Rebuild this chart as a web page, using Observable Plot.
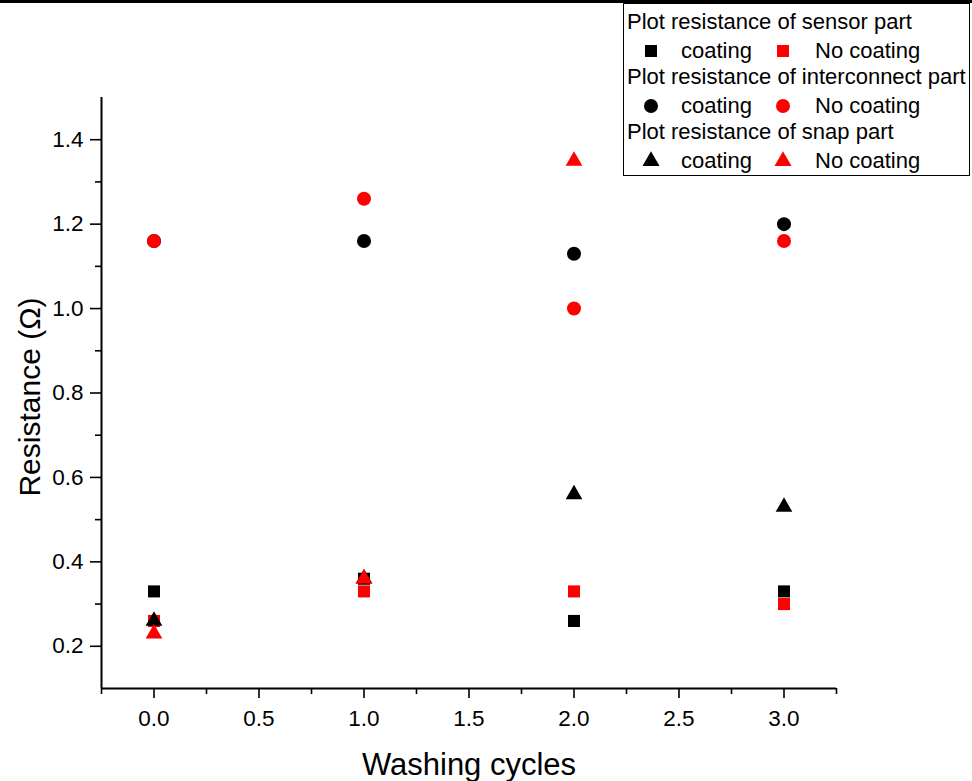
<!DOCTYPE html>
<html>
<head>
<meta charset="utf-8">
<script src="https://cdn.jsdelivr.net/npm/d3@7"></script>
<script src="https://cdn.jsdelivr.net/npm/@observablehq/plot@0.6"></script>
<style>
  html, body { margin: 0; padding: 0; background: white; }
  #wrap { position: relative; width: 972px; height: 781px; overflow: hidden; font-family: "Liberation Sans", Arial, sans-serif; }
  #topbar { position: absolute; left: 0; top: 0; width: 972px; height: 3px; background: black; }
  #legend { position: absolute; left: 623px; top: 3px; width: 347px; height: 173px; border: 1px solid black; background: white; font-size: 22px; color: black; box-sizing: border-box; }
  .row { position: absolute; left: 0; height: 28px; line-height: 28px; white-space: nowrap; }
  .sym { position: absolute; }
</style>
</head>
<body>
<div id="wrap">
  <div id="chart"></div>
  <div id="topbar"></div>
  <div id="legend"></div>
</div>
<script>
// ---- data ----
const cycles = [0, 1, 2, 3];
const sensorCoating = [0.33, 0.36, 0.26, 0.33];
const sensorNoCoating = [0.26, 0.33, 0.33, 0.30];
const interconnectCoating = [1.16, 1.16, 1.13, 1.20];
const interconnectNoCoating = [1.16, 1.26, 1.00, 1.16];
const snapCoating = [0.26, 0.36, 0.56, 0.53];
const snapNoCoating = [0.23, 0.36, 1.35, null];

const xMajorTicks = [0, 0.5, 1, 1.5, 2, 2.5, 3];
const xMinorTicks = [-0.25, 0.25, 0.75, 1.25, 1.75, 2.25, 2.75, 3.25];
const yMajorTicks = [0.2, 0.4, 0.6, 0.8, 1.0, 1.2, 1.4];
const yMinorTicks = [0.3, 0.5, 0.7, 0.9, 1.1, 1.3];

const xLabel = "Washing cycles";
const yLabel = "Resistance (Ω)";

const legendGroups = [
  {title: "Plot resistance of sensor part", symbol: "square"},
  {title: "Plot resistance of interconnect part", symbol: "circle"},
  {title: "Plot resistance of snap part", symbol: "triangle"}
];
const legendItems = ["coating", "No coating"];
const colors = ["#000000", "#ff0000"];

// ---- series table ----
const series = [
  {values: sensorCoating, symbol: "square", color: colors[0], r: 6.8},
  {values: sensorNoCoating, symbol: "square", color: colors[1], r: 6.8},
  {values: interconnectCoating, symbol: "circle", color: colors[0], r: 7},
  {values: interconnectNoCoating, symbol: "circle", color: colors[1], r: 7},
  {values: snapCoating, symbol: "triangle", color: colors[0], r: 6.2},
  {values: snapNoCoating, symbol: "triangle", color: colors[1], r: 6.2}
];

const font = "'Liberation Sans', Arial, sans-serif";

const chart = Plot.plot({
  width: 972,
  height: 781,
  marginLeft: 101,
  marginRight: 136,
  marginTop: 97,
  marginBottom: 93,
  x: {domain: [-0.25, 3.25]},
  y: {domain: [0.1, 1.5]},
  style: {fontFamily: font, color: "black", background: "white", overflow: "visible"},
  marks: [
    Plot.axisX(xMinorTicks, {tickSize: 6, tickFormat: () => "", label: null, strokeWidth: 1.6}),
    Plot.axisX(xMajorTicks, {tickSize: 10, tickPadding: 12, tickFormat: d => d.toFixed(1), fontSize: 22.5, label: null, strokeWidth: 1.6}),
    Plot.axisY(yMinorTicks, {tickSize: 6, tickFormat: () => "", label: null, strokeWidth: 1.6}),
    Plot.axisY(yMajorTicks, {tickSize: 11, tickPadding: 7, tickFormat: d => d.toFixed(1), fontSize: 22.5, label: null, strokeWidth: 1.6}),
    Plot.ruleY([0.1], {strokeWidth: 2}),
    Plot.ruleX([-0.25], {strokeWidth: 2}),
    ...series.map(s => Plot.dot(
      cycles.map((c, i) => ({x: c, y: s.values[i]})).filter(d => d.y != null),
      {x: "x", y: "y", symbol: () => s.symbol, fill: s.color, stroke: "none", r: s.r}
    )),
    Plot.text([xLabel], {text: d => d, frameAnchor: "bottom", textAnchor: "middle", lineAnchor: "middle", dy: 77, fontSize: 31, fill: "black"}),
    Plot.text([yLabel], {text: d => d, frameAnchor: "left", textAnchor: "middle", lineAnchor: "middle", dx: -71, dy: 4, rotate: -90, fontSize: 30, fill: "black"})
  ]
});
document.getElementById("chart").appendChild(chart);

// ---- legend ----
const legend = document.getElementById("legend");
function symbolSvg(kind, color) {
  const size = 20;
  const ns = "http://www.w3.org/2000/svg";
  const svg = document.createElementNS(ns, "svg");
  svg.setAttribute("width", size);
  svg.setAttribute("height", size);
  const path = document.createElementNS(ns, "path");
  const area = kind === "square" ? 12 * 12 : kind === "circle" ? Math.PI * 7 * 7 : Math.sqrt(3) / 4 * 17 * 17;
  const t = kind === "square" ? d3.symbolSquare : kind === "circle" ? d3.symbolCircle : d3.symbolTriangle;
  path.setAttribute("d", d3.symbol(t, area)());
  path.setAttribute("transform", `translate(${size / 2},${size / 2})`);
  path.setAttribute("fill", color);
  svg.appendChild(path);
  return svg;
}
const rowH = 27.4;
legendGroups.forEach((g, gi) => {
  const titleRow = document.createElement("div");
  titleRow.className = "row";
  titleRow.style.top = (4 + gi * 2 * rowH) + "px";
  titleRow.style.left = "3px";
  titleRow.textContent = g.title;
  legend.appendChild(titleRow);
  const y = 6 + (gi * 2 + 1) * rowH;
  const symX = [17, 149];
  const textX = [57, 191];
  legendItems.forEach((label, li) => {
    const sym = symbolSvg(g.symbol, colors[li]);
    sym.setAttribute("class", "sym");
    sym.style.left = symX[li] + "px";
    sym.style.top = (y + 4) + "px";
    legend.appendChild(sym);
    const t = document.createElement("div");
    t.className = "row";
    t.style.top = y + "px";
    t.style.left = textX[li] + "px";
    t.textContent = label;
    legend.appendChild(t);
  });
});
</script>
</body>
</html>
